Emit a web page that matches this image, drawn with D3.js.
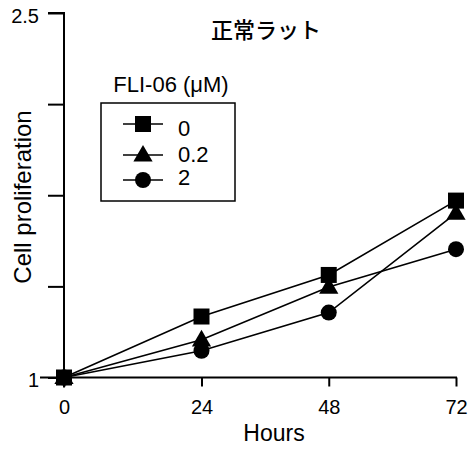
<!DOCTYPE html>
<html lang="ja">
<head>
<meta charset="utf-8">
<title>正常ラット</title>
<script src="https://cdn.jsdelivr.net/npm/d3@7"></script>
<style>
  body { margin: 0; background: #fff; }
  text { font-family: "Liberation Sans", Arial, sans-serif; fill: #000; }
  .jp { font-family: "Noto Sans CJK JP", sans-serif; font-weight: 500; }
</style>
</head>
<body>
<svg id="chart" width="474" height="451"></svg>
<script>
// data
var hours = [0, 24, 48, 72];
var doses = ["0", "0.2", "2"];
var shapes = ["square", "triangle", "circle"];
// marker values
var dose0 = [1.0, 1.251, 1.422, 1.728];
var dose02 = [1.0, 1.155, 1.372, 1.676];
var dose2 = [1.0, 1.11, 1.267, 1.528];
// the connecting lines in the source swap between 48 and 72 h
var line0 = [1.0, 1.251, 1.422, 1.728];
var line02 = [1.0, 1.155, 1.372, 1.528];
var line2 = [1.0, 1.11, 1.267, 1.676];
var yTicks = [1, 1.375, 1.75, 2.125, 2.5];
var yLabels = ["1", "", "", "", "2.5"];

var series = [dose0, dose02, dose2];
var lines = [line0, line02, line2];

var svg = d3.select("#chart");

// x scale: first interval drawn a bit wider in the source
var x = d3.scaleLinear().domain([0, 24, 72]).range([64, 201.5, 456]);
var y = d3.scaleLinear().domain([1, 2.5]).range([377.5, 13]);

// y axis
var yAxis = d3.axisLeft(y)
  .tickValues(yTicks)
  .tickSize(16)
  .tickPadding(9)
  .tickFormat(function(d, i) { return yLabels[i]; });
var gy = svg.append("g").attr("transform", "translate(64,0)").call(yAxis);
gy.select(".domain").attr("d", "M-16," + y(2.5) + "H0V" + (y(1) + 10));

// x axis
var xAxis = d3.axisBottom(x).tickValues(hours).tickSize(9).tickPadding(13);
var gx = svg.append("g").attr("transform", "translate(0," + y(1) + ")").call(xAxis);
gx.select(".domain").attr("d", "M40,0H457");

svg.selectAll(".domain").attr("stroke", "#000").attr("stroke-width", 2);
svg.selectAll(".tick line").attr("stroke", "#000").attr("stroke-width", 2);
svg.selectAll(".tick text").style("font-size", "20px").attr("fill", "#000");
gy.selectAll(".tick text").attr("dy", "0.45em");

// axis titles
svg.append("text").attr("x", 274).attr("y", 441).attr("text-anchor", "middle")
  .style("font-size", "23px").text("Hours");
svg.append("text").attr("transform", "translate(31,197) rotate(-90)")
  .attr("text-anchor", "middle").style("font-size", "24px").text("Cell proliferation");

// title
svg.append("text").attr("class", "jp").attr("x", 266).attr("y", 38)
  .attr("text-anchor", "middle").style("font-size", "22px").text("正常ラット");

var line = d3.line().x(function(d, i) { return x(hours[i]); }).y(function(d) { return y(d); });

function drawMarker(g, shape, cx, cy) {
  if (shape === "square") {
    g.append("rect").attr("x", cx - 8).attr("y", cy - 8).attr("width", 16).attr("height", 16).attr("fill", "#000");
  } else if (shape === "triangle") {
    g.append("path").attr("d", d3.symbol().type(d3.symbolTriangle).size(160)()).attr("transform", "translate(" + cx + "," + (cy + 1) + ")").attr("fill", "#000");
  } else {
    g.append("circle").attr("cx", cx).attr("cy", cy).attr("r", 8).attr("fill", "#000");
  }
}

var plot = svg.append("g");
lines.forEach(function(s) {
  plot.append("path").datum(s).attr("d", line).attr("fill", "none").attr("stroke", "#000").attr("stroke-width", 1.6);
});
// draw markers in reverse so squares sit on top
for (var k = series.length - 1; k >= 0; k--) {
  series[k].forEach(function(v, i) { drawMarker(plot, shapes[k], x(hours[i]), y(v)); });
}

// legend
svg.append("text").attr("x", 171).attr("y", 92).attr("text-anchor", "middle")
  .style("font-size", "22px").text("FLI-06 (\u03bcM)");
svg.append("rect").attr("x", 101).attr("y", 103).attr("width", 134).attr("height", 98)
  .attr("fill", "none").attr("stroke", "#000").attr("stroke-width", 1.5);
var legY = [124, 155, 180];
var legTextY = [128, 154, 177];
doses.forEach(function(d, i) {
  var g = svg.append("g");
  g.append("line").attr("x1", 123).attr("x2", 163).attr("y1", legY[i]).attr("y2", legY[i])
    .attr("stroke", "#000").attr("stroke-width", 1.6);
  drawMarker(g, shapes[i], 143, legY[i]);
  g.append("text").attr("x", 178).attr("y", legTextY[i]).attr("dy", "0.36em")
    .style("font-size", "22px").text(d);
});
</script>
</body>
</html>
